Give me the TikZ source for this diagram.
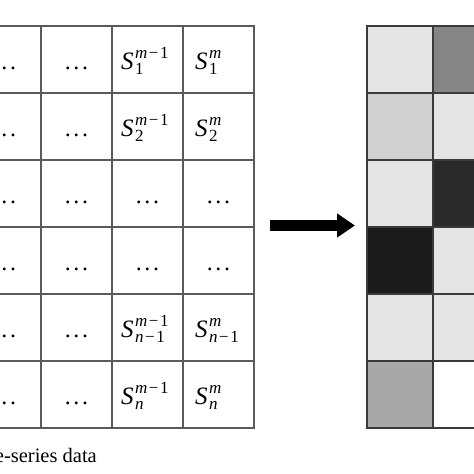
\documentclass[tikz,border=0pt]{standalone}
\usepackage{fontspec}
\setmainfont{Liberation Serif}
\usetikzlibrary{arrows.meta}
\definecolor{linegray}{HTML}{5A5A5A}
\definecolor{darkline}{HTML}{3A3A3A}
\newcommand{\scrfont}{\fontsize{17}{19}\selectfont}
\newcommand{\Sv}[2]{{\itshape S}\kern1.5pt\mbox{\scrfont\rlap{\raisebox{10.5pt}{#1}}\raisebox{-5.5pt}{#2}}}
\newcommand{\mmo}{\textit{m}\kern1.5pt−\kern1.5pt1}
\newcommand{\nmo}{\textit{n}\kern1.5pt−\kern1.5pt1}
\newcommand{\ddd}{.\kern2.6pt.\kern2.6pt.}
\begin{document}
\begin{tikzpicture}[x=1pt,y=-1pt,
  lcell/.style={draw=linegray, line width=1.2pt, minimum width=71pt, minimum height=67pt, inner sep=0pt, outer sep=0pt},
  rcell/.style={draw=darkline, line width=1.6pt, minimum width=66pt, minimum height=67pt, inner sep=0pt, outer sep=0pt},
  mathtxt/.style={font=\fontsize{25}{29}\selectfont, inner sep=0pt, anchor=base west},
  dotstxt/.style={font=\fontsize{24}{28}\selectfont, inner sep=0pt, anchor=base},
  caption/.style={font=\fontsize{20.5}{24}\selectfont, inner sep=0pt, anchor=base east},
  bigarrow/.style={line width=11pt, -{Triangle[length=18pt,width=23pt]}}
]
\useasboundingbox (0,0) rectangle (474,474);
\clip (0,0) rectangle (474,474);

% left grid cells
\foreach \r in {1,...,6}{
  \foreach \c/\cx in {0/5.5,1/76.5,2/147.5,3/218.5}{
    \node[lcell] (L-\r-\c) at (\cx,{59.5+67*(\r-1)}) {};
  }
}
% dots in left columns
\foreach \r in {1,...,6}{
  \node[dotstxt] (D0-\r) at (4.5,{69+67*(\r-1)}) {\ddd};
  \node[dotstxt] (D1-\r) at (76.5,{69+67*(\r-1)}) {\ddd};
}
% row 1
\node[mathtxt] (t12) at (121,69) {\Sv{\mmo}{1}};
\node[mathtxt] (t13) at (195,69) {\Sv{\textit{m}}{1}};
% row 2
\node[mathtxt] (t22) at (121,136) {\Sv{\mmo}{2}};
\node[mathtxt] (t23) at (195,136) {\Sv{\textit{m}}{2}};
% rows 3,4
\node[dotstxt] (t32) at (147.5,203) {\ddd};
\node[dotstxt] (t33) at (218.5,203) {\ddd};
\node[dotstxt] (t42) at (147.5,270) {\ddd};
\node[dotstxt] (t43) at (218.5,270) {\ddd};
% row 5
\node[mathtxt] (t52) at (121,337) {\Sv{\mmo}{\nmo}};
\node[mathtxt] (t53) at (195,337) {\Sv{\textit{m}}{\nmo}};
% row 6
\node[mathtxt] (t62) at (121,404) {\Sv{\mmo}{\textit{n}}};
\node[mathtxt] (t63) at (195,404) {\Sv{\textit{m}}{\textit{n}}};

% caption
\node[caption] (cap) at (97,462) {Time-series data};

% arrow
\coordinate (as) at (270,225.5);
\coordinate (ae) at (355,225.5);
\draw[bigarrow] (as) -- (ae);

% right grid
\foreach \r/\ga/\gb in {1/E5E5E5/858585, 2/D0D0D0/E5E5E5, 3/E5E5E5/2A2A2A, 4/1A1A1A/E5E5E5, 5/E5E5E5/E5E5E5, 6/A8A8A8/FFFFFF}{
  \definecolor{ca}{HTML}{\ga}
  \definecolor{cb}{HTML}{\gb}
  \node[rcell, fill=ca] (R-\r-1) at (400,{59.5+67*(\r-1)}) {};
  \node[rcell, fill=cb] (R-\r-2) at (466,{59.5+67*(\r-1)}) {};
}
\end{tikzpicture}
\end{document}
